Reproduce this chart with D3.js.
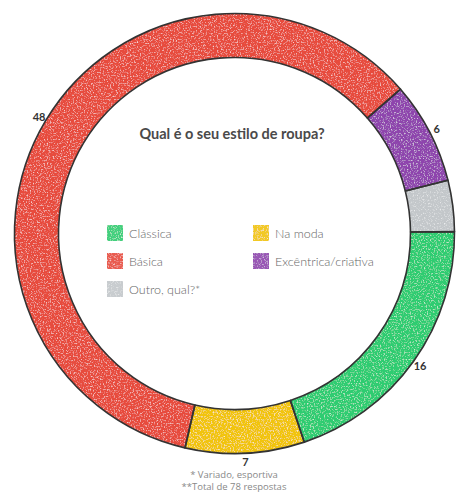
<!DOCTYPE html>
<html><head><meta charset="utf-8">
<script src="https://cdn.jsdelivr.net/npm/d3@7"></script>
<style>html,body{margin:0;padding:0;background:#fff;}</style>
</head><body>
<svg id="chart" width="461" height="493"></svg>
<script>
const categories = ["Básica", "Excêntrica/criativa", "Outro, qual?*", "Clássica", "Na moda"];
const values = [48, 6, 3, 16, 7];
const valueLabels = ["48", "6", "", "16", "7"];
const colors = ["#e74c3c", "#8e44ad", "#c3c7ca", "#2ecc71", "#f1c40f"];
const legendOrder = ["Clássica", "Na moda", "Básica", "Excêntrica/criativa", "Outro, qual?*"];
const title = "Qual é o seu estilo de roupa?";
const notes = ["* Variado, esportiva", "**Total de 78 respostas"];

const svg = d3.select("#chart");
const cx = 234.5, cy = 233.5, rOuter = 220, rInner = 176, rLabel = 228;
const color = d3.scaleOrdinal().domain(categories).range(colors);

const defs = svg.append("defs");
const f = defs.append("filter").attr("id", "sketch").attr("x", 0).attr("y", 0).attr("width", 1).attr("height", 1);
f.append("feTurbulence").attr("type", "fractalNoise").attr("baseFrequency", "0.7 0.7").attr("numOctaves", 2).attr("seed", 3).attr("result", "noise");
f.append("feColorMatrix").attr("in", "noise").attr("type", "matrix")
  .attr("values", "0 0 0 0 1  0 0 0 0 1  0 0 0 0 1  0 0 0 -1.8 0.85").attr("result", "speck");
f.append("feComposite").attr("in", "speck").attr("in2", "SourceGraphic").attr("operator", "in").attr("result", "speckIn");
f.append("feMerge").selectAll("feMergeNode").data(["SourceGraphic", "speckIn"]).join("feMergeNode").attr("in", d => d);

const deg = Math.PI / 180;
const pie = d3.pie().sort(null).value(d => d.v).startAngle(193 * deg).endAngle(553 * deg);
const data = categories.map((c, i) => ({c, v: values[i], lab: valueLabels[i]}));
const arcs = pie(data);
const arc = d3.arc().innerRadius(rInner).outerRadius(rOuter);

const g = svg.append("g").attr("transform", `translate(${cx},${cy})`);
g.append("g").attr("filter", "url(#sketch)").selectAll("path").data(arcs).join("path")
  .attr("d", arc).attr("fill", d => color(d.data.c));
g.append("g").selectAll("path").data(arcs).join("path")
  .attr("d", arc).attr("fill", "none").attr("stroke", "#333").attr("stroke-width", 1.6).attr("stroke-linejoin", "round");

const labelArc = d3.arc().innerRadius(rLabel).outerRadius(rLabel);
g.selectAll("text.val").data(arcs.filter(d => d.data.lab)).join("text")
  .attr("class", "val")
  .attr("transform", d => `translate(${labelArc.centroid(d)})`)
  .attr("text-anchor", "middle").attr("dominant-baseline", "central")
  .attr("font-family", "Lato, 'DejaVu Sans', sans-serif").attr("font-weight", "bold")
  .attr("font-size", 11).attr("fill", "#333")
  .text(d => d.data.lab);

svg.append("text").attr("x", 232).attr("y", 133).attr("text-anchor", "middle").attr("dominant-baseline", "central")
  .attr("font-family", "Lato, sans-serif").attr("font-weight", "bold").attr("font-size", 14.5).attr("fill", "#4a4a4a")
  .text(title);

const colX = [107, 253], rowY = [233, 261, 289];
const leg = svg.append("g");
legendOrder.forEach((c, i) => {
  const x = colX[i % 2], y = rowY[Math.floor(i / 2)];
  leg.append("rect").attr("x", x).attr("y", y - 8).attr("width", 16).attr("height", 16)
    .attr("fill", color(c)).attr("opacity", 0.9).attr("filter", "url(#sketch)");
  leg.append("text").attr("x", x + 22).attr("y", y).attr("dominant-baseline", "central")
    .attr("font-family", "Lato, sans-serif").attr("font-weight", 300).attr("font-size", 12.5).attr("fill", "#666")
    .text(c);
});

svg.selectAll("text.note").data(notes).join("text").attr("class", "note")
  .attr("x", 234).attr("y", (d, i) => 474.5 + i * 12).attr("text-anchor", "middle").attr("dominant-baseline", "central")
  .attr("font-family", "'Open Sans', sans-serif").attr("font-size", 9.5).attr("fill", "#888")
  .text(d => d);
</script>
</body></html>
